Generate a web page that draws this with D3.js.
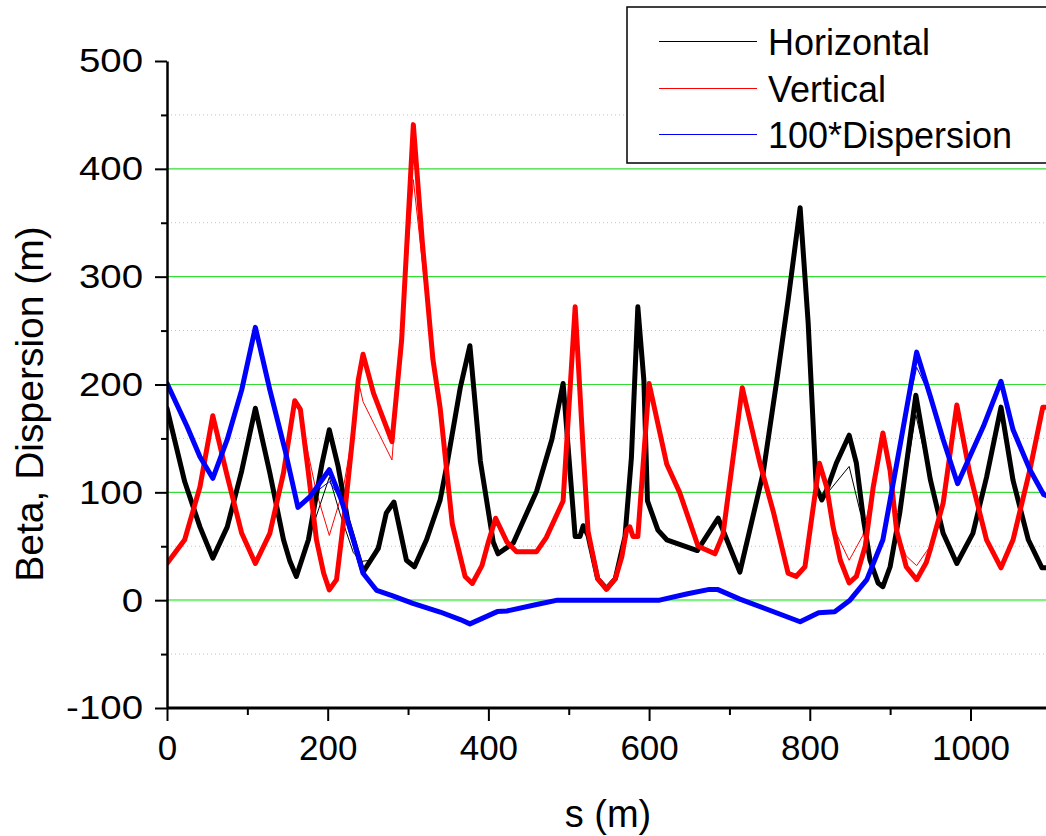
<!DOCTYPE html>
<html>
<head>
<meta charset="UTF-8">
<script src="https://d3js.org/d3.v7.min.js"></script>
<style>
  body { margin: 0; background: #fff; }
  text { font-family: "Liberation Sans", Arial, sans-serif; fill: #000; }
</style>
</head>
<body>
<svg id="canvas"></svg>
<script>

width = 1046;
height = 836;
margin = {left: 167, right: 0, top: 61, bottom: 128};

// [s (m), value (m)] -- bold curves
horizontalBold = [[0,178],[22,110],[41,68],[57,39],[75,68],[93,120],[110,178],[128,118],[145,56],[153,36],[161,22],
  [176,56],[193,127],[202,158],[213,124],[225,74],[244,26],[263,48],[273,81],[282.5,91],[298,37],[308,31],[323,56],
  [340,93],[348,124],[365,197],[377,236],[390,129],[406,54],[412,43],[431,53],[460,101],[479,149],[493,201],[508,59],
  [514,59],[518,69],[524,60],[536,20],[547,10.6],[558,20],[570,59],[578,132],[586,272],[593.5,204],[598,92],[611,65],
  [622,56],[660,46],[686,76],[713,26],[742,118],[759,204],[773,278],[788,364],[798,257],[808,105],[815,93],[821,102],
  [833,127],[849,153],[858,127],[867,74],[875,37],[885,16],[891,12.5],[900,31],[912,81],[932,190],[950,112],[966,62],
  [983,34],[1003,62],[1020,114],[1038,179],[1053,111],[1072,56],[1089,30],[1094,30]];

verticalBold = [[0,34],[22,56],[41,105],[57,171],[74,118],[93,62],[110,34],[128,62],[145,118],[159,185],[166,177],
  [176,118],[186,56],[195,25],[202,9.5],[211,19],[222,87],[232,158],[238,204],[244,228],[257,192],[280,147],[292,241],
  [306.6,441],[318,330],[331,223],[340,178],[355,71],[371,22],[380,15.5],[392,32],[400,54],[409,76],[423,54],[435,45],
  [460,45],[472,58],[493,92],[508,272],[518,139],[524,64],[536,20],[547,10],[558,20],[566,40],[572,65],[576,68],
  [580,59],[586,59],[600,201],[622,126],[638,100],[661,50],[682,43],[692,61],[716,197],[738,127],[755,81],[773,25],
  [783,22],[794,31],[802,74],[812,127],[821,105],[829,68],[838,37],[849,16],[858,22],[869,50],[879,105],[891,155],
  [900,120],[908,65],[920,31],[933,19],[945,35],[950,47],[966,90],[983,181],[999,118],[1020,56],[1038,30],[1053,56],
  [1074,121],[1090,179],[1094,179]];

dispersionBold = [[0,201],[25,161],[41,133],[57,113],[75,149],[93,195],[110,253],[128,195],[147,139],[163,86],[178,96],
  [202,121],[217,93],[232,56],[244,25],[261,9],[281,4],[306,-3],[340,-11],[365,-18],[377,-22],[411,-10.6],[423,-10],
  [460,-4],[486,0],[613,0],[648,6],[675,10],[685,10],[713,1],[788,-20],[811,-11.6],[831,-10.7],[850,0],[871,19],
  [891,56],[912,142],[933,230],[950,189],[966,149],[984,108],[1016,161],[1038,203],[1053,158],[1074,121],[1091,98],[1094,97]];

// thin curves: where they leave the bold ones (elsewhere they run underneath)
horizontalThinPatches = [
  [[176,56],[202,114],[215,81],[232,44],[242,36],[253,37],[265,56]],
  [[815,93],[849,124],[863,81],[867,74]],
  [[912,81],[932,172],[950,112]]];
verticalThinPatches = [
  [[166,177],[176,135],[186,100],[202,60],[219,102],[232,158]],
  [[238,204],[244,184],[280,130],[306.6,390],[331,223]],
  [[829,68],[849,37],[866,60],[879,105]],
  [[908,65],[920,41],[933,32],[945,45],[950,50]]];
dispersionThinPatches = [
  [[178,96],[202,110],[217,93]],
  [[912,142],[933,216],[950,189]]];

seriesNames = ["Horizontal", "Vertical", "100*Dispersion"];
seriesColors = ["#000000", "#ff0000", "#0000ff"];

xMajor = [0, 200, 400, 600, 800, 1000];
xMinor = [100, 300, 500, 700, 900];
yMajor = [-100, 0, 100, 200, 300, 400, 500];
yMinor = [-50, 50, 150, 250, 350, 450];

function patched(bold, patches) {
  var pts = bold.slice();
  patches.forEach(function(p) {
    var a = p[0][0], b = p[p.length - 1][0];
    pts = pts.filter(function(d) { return d[0] < a || d[0] > b; }).concat(p);
  });
  return pts.sort(function(u, v) { return u[0] - v[0]; });
}

bold = [horizontalBold, verticalBold, dispersionBold];
thin = [patched(horizontalBold, horizontalThinPatches),
        patched(verticalBold, verticalThinPatches),
        patched(dispersionBold, dispersionThinPatches)];

svg = d3.select("#canvas").attr("width", width).attr("height", height);

x = d3.scaleLinear().domain([0, 1094]).range([margin.left, width - margin.right]);
y = d3.scaleLinear().domain([-100, 500]).range([height - margin.bottom, margin.top]);

// grid
grid = svg.append("g");
grid.selectAll(".gmaj").data([100, 200, 300, 400]).enter().append("line")
  .attr("x1", x(0)).attr("x2", width).attr("y1", d => y(d)).attr("y2", d => y(d))
  .attr("stroke", "#33dd33").attr("stroke-width", 1.2);
grid.append("line")
  .attr("x1", x(0)).attr("x2", width).attr("y1", y(0)).attr("y2", y(0))
  .attr("stroke", "#80f080").attr("stroke-width", 2.2);
grid.selectAll(".gmin").data(yMinor).enter().append("line")
  .attr("x1", x(0)).attr("x2", width).attr("y1", d => y(d)).attr("y2", d => y(d))
  .attr("stroke", "#8ee88e").attr("stroke-width", 1).attr("stroke-dasharray", "1,3");

svg.append("clipPath").attr("id", "plot").append("rect")
  .attr("x", x(0)).attr("y", 0).attr("width", width - x(0)).attr("height", y(-100));

line = d3.line().x(d => x(d[0])).y(d => y(d[1]));

curves = svg.append("g").attr("clip-path", "url(#plot)");
thin.forEach(function(pts, i) {
  curves.append("path").attr("d", line(pts)).attr("fill", "none")
    .attr("stroke", seriesColors[i]).attr("stroke-width", 1);
});
bold.forEach(function(pts, i) {
  curves.append("path").attr("d", line(pts)).attr("fill", "none")
    .attr("stroke", seriesColors[i]).attr("stroke-width", 5)
    .attr("stroke-linejoin", "round").attr("stroke-linecap", "round");
});

// axes
fmt = d => String(d).replace("\u2212", "-");
xAxis = svg.append("g").attr("transform", "translate(0," + y(-100) + ")")
  .call(d3.axisBottom(x).tickValues(xMajor).tickFormat(fmt).tickSize(13).tickPadding(14).tickSizeOuter(0));
svg.append("g").attr("transform", "translate(0," + y(-100) + ")")
  .call(d3.axisBottom(x).tickValues(xMinor).tickSize(7).tickFormat("").tickSizeOuter(0))
  .select(".domain").remove();
xAxis.select(".domain").attr("stroke-width", 3).attr("d", "M" + x(0) + ",0H" + width);

yAxis = svg.append("g").attr("transform", "translate(" + x(0) + ",0)")
  .call(d3.axisLeft(y).tickValues(yMajor).tickFormat(fmt).tickSize(12).tickPadding(12).tickSizeOuter(0));
svg.append("g").attr("transform", "translate(" + x(0) + ",0)")
  .call(d3.axisLeft(y).tickValues(yMinor).tickSize(6).tickFormat("").tickSizeOuter(0))
  .select(".domain").remove();
yAxis.select(".domain").attr("stroke-width", 2.5);

svg.selectAll(".tick line").attr("stroke-width", 2);
xAxis.selectAll("text").attr("font-size", 35).style("font-family", "Liberation Sans, Arial");
// y labels in the picture are a little wider than plain Arial
yAxis.selectAll("text").attr("font-size", 34).style("font-family", "Liberation Sans, Arial")
  .attr("x", -24 / 1.13).attr("transform", "scale(1.13,1)");

svg.append("text").attr("x", 608).attr("y", 827).attr("text-anchor", "middle")
  .attr("font-size", 38).text("s (m)");
svg.append("text").attr("transform", "translate(43,404) rotate(-90)").attr("text-anchor", "middle")
  .attr("font-size", 39).text("Beta, Dispersion (m)");

// legend
legend = svg.append("g");
legend.append("rect").attr("x", 627).attr("y", 7).attr("width", 440).attr("height", 156)
  .attr("fill", "#fff").attr("stroke", "#000").attr("stroke-width", 1.5);
seriesNames.forEach(function(name, i) {
  var ly = Math.round(41 + i * 46.5) + 0.5;
  legend.append("line").attr("x1", 659).attr("x2", 757).attr("y1", ly).attr("y2", ly)
    .attr("stroke", seriesColors[i]).attr("stroke-width", 1.2);
  legend.append("text").attr("x", 768).attr("y", ly + 13).attr("font-size", 36).text(name);
});

</script>
</body>
</html>
